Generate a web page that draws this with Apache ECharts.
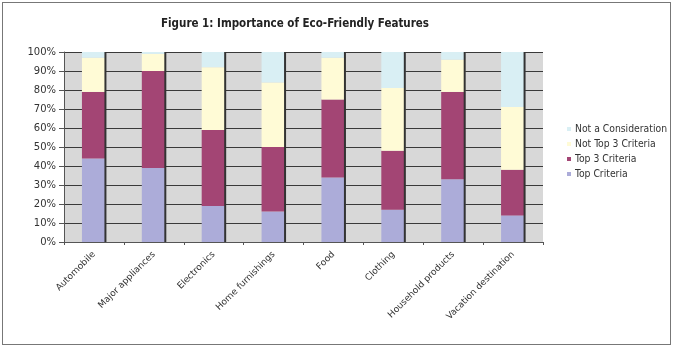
<!DOCTYPE html>
<html>
<head>
<meta charset="utf-8">
<script src="https://cdn.jsdelivr.net/npm/echarts@6/dist/echarts.min.js"></script>
<style>
html,body{margin:0;padding:0;background:#fff;}
#frame{position:absolute;left:2px;top:2px;width:669px;height:343px;border:1px solid #777;box-sizing:border-box;}
#chart{position:absolute;left:0;top:0;width:675px;height:349px;}
</style>
</head>
<body>
<div id="frame"></div>
<div id="chart"></div>
<script>
const categories = ['Automobile','Major appliances','Electronics','Home furnishings','Food','Clothing','Household products','Vacation destination'];
const topCriteria = [44, 39, 19, 16, 34, 17, 33, 14];
const top3Criteria = [35, 51, 40, 34, 41, 31, 46, 24];
const notTop3Criteria = [18, 9, 33, 34, 22, 33, 17, 33];
const notConsideration = [3, 1, 8, 16, 3, 19, 4, 29];
const edgeValues = [100, 100, 100, 100, 100, 100, 100, 100];
const yTicks = [0, 10, 20, 30, 40, 50, 60, 70, 80, 90, 100];

const chart = echarts.init(document.getElementById('chart'), null, {renderer: 'canvas'});
const font = 'DejaVu Sans, Verdana, sans-serif';
const condensed = 'DejaVu Sans Condensed, sans-serif';
const mk = (name, data, color) => ({
  name, type: 'bar', stack: 'all', data, barWidth: 24, xAxisIndex: 0,
  itemStyle: {color}, emphasis: {disabled: true}
});
chart.setOption({
  animation: false,
  backgroundColor: 'transparent',
  title: {
    text: 'Figure 1: Importance of Eco-Friendly Features',
    left: 290, top: 13, textAlign: 'center',
    textStyle: {fontFamily: condensed, fontWeight: 'bold', fontSize: 11.5, color: '#222'}
  },
  legend: {
    orient: 'vertical', left: 562, top: 119,
    itemWidth: 4, itemHeight: 4, itemGap: 5,
    data: ['Not a Consideration', 'Not Top 3 Criteria', 'Top 3 Criteria', 'Top Criteria'],
    textStyle: {fontFamily: condensed, fontSize: 10.3, color: '#333', padding: [0,0,0,-1]},
    icon: 'rect'
  },
  grid: {left: 64, right: 132, top: 52, bottom: 107},
  xAxis: [{
    type: 'category', data: categories,
    axisLine: {lineStyle: {color: '#555'}},
    axisTick: {show: true, lineStyle: {color: '#555'}, length: 3},
    axisLabel: {rotate: 45, fontSize: 9, color: '#333', fontFamily: font, margin: 11, interval: 0}
  }, {
    type: 'category', data: categories, show: false
  }],
  yAxis: {
    type: 'value', min: 0, max: 100, interval: 10,
    axisLine: {show: true, lineStyle: {color: '#555'}},
    axisTick: {show: true, length: 5, lineStyle: {color: '#555'}},
    axisLabel: {formatter: v => yTicks.includes(v) ? v + '%' : '', fontSize: 10, color: '#333', fontFamily: font, margin: 8},
    splitLine: {show: true, lineStyle: {color: '#3a3a3a', width: 1}}
  },
  series: [
    mk('Top Criteria', topCriteria, '#acacd9'),
    mk('Top 3 Criteria', top3Criteria, '#a34574'),
    mk('Not Top 3 Criteria', notTop3Criteria, '#fffbd6'),
    mk('Not a Consideration', notConsideration, '#d9eff4'),
    {name: 'spacer', type: 'bar', xAxisIndex: 1, data: edgeValues, barWidth: 23, barGap: 0,
     itemStyle: {color: 'rgba(0,0,0,0)'}, silent: true, z: 3},
    {name: 'edge', type: 'bar', xAxisIndex: 1, data: edgeValues, barWidth: 2, barGap: 0,
     itemStyle: {color: '#333'}, silent: true, z: 3}
  ],
  graphic: [{
    type: 'rect', shape: {x: 64, y: 52, width: 479, height: 190}, z: -1, silent: true,
    style: {fill: '#d8d8d8'}
  }]
});
</script>
</body>
</html>
